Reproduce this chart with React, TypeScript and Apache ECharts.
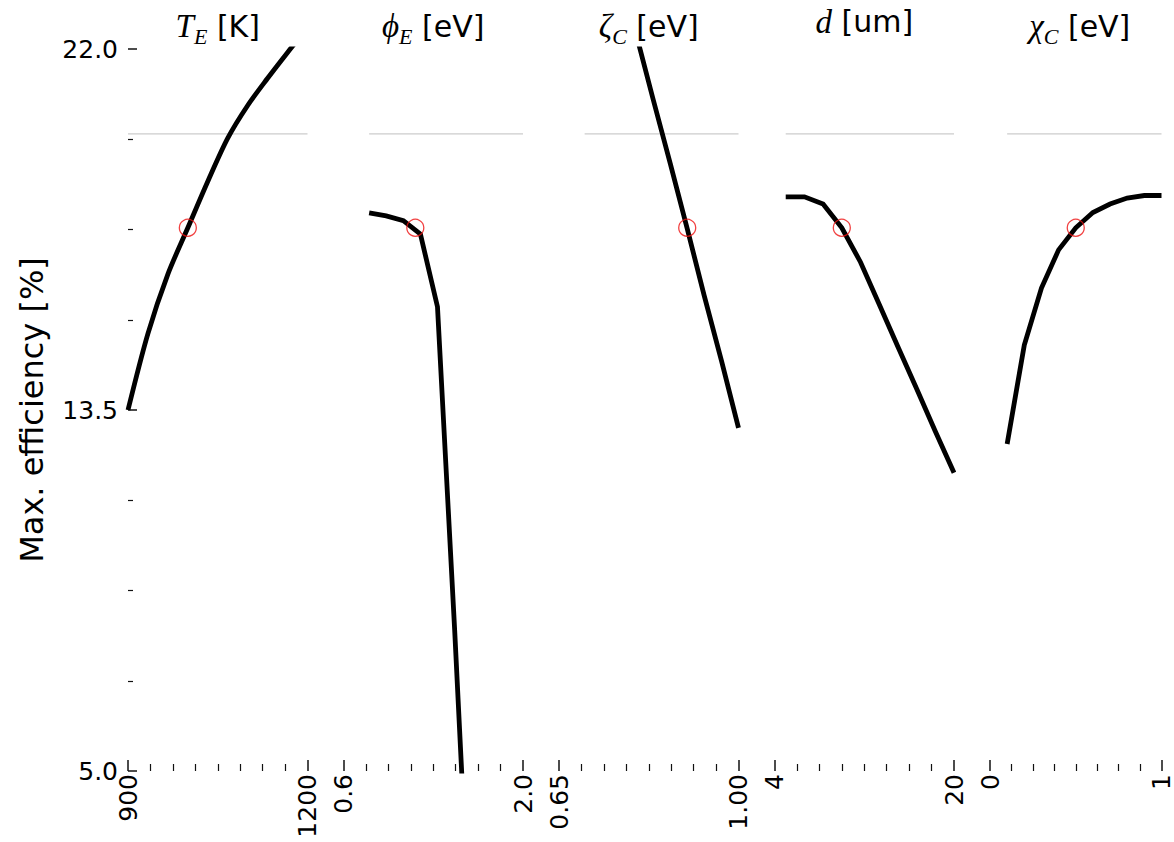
import React, { useEffect, useRef } from "react";
import * as echarts from "echarts";

// ---- y axis ----
const Y_MIN = 5;
const Y_MAX = 22;
const Y_TICK_LABELS = [5.0, 13.5, 22.0];
const Y_MINOR_TICKS = [7.125, 9.25, 11.375, 15.625, 17.75, 19.875];
const REF_LEVEL = 20;
const BASE_EFF = 17.79;

// ---- panel x ranges and labels ----
const X_MIN = [900, 0.6, 0.65, 4, 0];
const X_MAX = [1200, 2.0, 1.0, 20, 1];
const X_TICK_LABELS = [
  ["900", "1200"],
  ["0.6", "2.0"],
  ["0.65", "1.00"],
  ["4", "20"],
  ["0", "1"],
];
const BASE_X = [1000, 1.16, 0.9, 10, 0.5];

// ---- series data ----
const TE_X = [900, 933.3, 966.7, 1000, 1033.3, 1066.7, 1100, 1133.3, 1166.7, 1200];
const TE_Y = [13.5, 15.3, 16.7, 17.79, 18.88, 19.9, 20.67, 21.31, 21.92, 22.5];

const PHI_X = [0.8, 0.933, 1.067, 1.2, 1.333, 1.467, 1.6, 1.733, 1.867, 2.0];
const PHI_Y = [18.14, 18.07, 17.96, 17.64, 15.93, 8.32, 0.2, 0, 0, 0];

const ZETA_X = [0.7, 0.733, 0.767, 0.8, 0.833, 0.867, 0.9, 0.933, 0.967, 1.0];
const ZETA_Y = [27.0, 25.48, 23.9, 22.37, 20.84, 19.3, 17.77, 16.2, 14.65, 13.08];

const D_X = [5, 6.67, 8.33, 10, 11.67, 13.33, 15, 16.67, 18.33, 20];
const D_Y = [18.52, 18.52, 18.35, 17.79, 16.98, 15.99, 14.99, 14.0, 13.0, 12.02];

const CHI_X = [0.1, 0.2, 0.3, 0.4, 0.5, 0.6, 0.7, 0.8, 0.9, 1.0];
const CHI_Y = [12.7, 15.03, 16.37, 17.27, 17.79, 18.15, 18.35, 18.49, 18.55, 18.55];

const PANEL_X = [TE_X, PHI_X, ZETA_X, D_X, CHI_X];
const PANEL_Y = [TE_Y, PHI_Y, ZETA_Y, D_Y, CHI_Y];
const PANEL_SMOOTH = [0.3, 0, 0, 0, 0];

// titles: [math symbol, subscript, unit]
const TITLES = [
  ["T", "E", "[K]"],
  ["\u03D5", "E", "[eV]"],
  ["\u03B6", "C", "[eV]"],
  ["d", "", "[um]"],
  ["\u03C7", "C", "[eV]"],
];

const GRID_LEFT = 128;
const GRID_STEP = 215.5;
const GRID_W = 179.5;
const GRID_TOP = 49;
const GRID_H = 722;

const SANS = "DejaVu Sans";
const SERIF = "'Liberation Serif', 'DejaVu Serif', serif";

export default function App() {
  const ref = useRef<HTMLDivElement>(null);

  useEffect(() => {
    if (!ref.current) return;
    const chart = echarts.init(ref.current, undefined, { renderer: "svg" });

    const grids: any[] = [];
    const xAxes: any[] = [];
    const yAxes: any[] = [];
    const series: any[] = [];
    const titles: any[] = [];

    for (let i = 0; i < 5; i++) {
      const left = GRID_LEFT + GRID_STEP * i;
      grids.push({ left, top: GRID_TOP, width: GRID_W, height: GRID_H });
      const mn = X_MIN[i];
      const mx = X_MAX[i];
      const minorVals: number[] = [];
      for (let k = 1; k < 8; k++) minorVals.push(mn + ((mx - mn) * k) / 8);
      const labels = X_TICK_LABELS[i];
      xAxes.push({
        type: "value",
        gridIndex: i,
        position: "bottom",
        min: mn,
        max: mx,
        axisLine: { show: false },
        splitLine: { show: false },
        axisTick: {
          show: true,
          inside: true,
          length: 11,
          customValues: [mn, mx],
          lineStyle: { color: "#111", width: 1.5 },
        },
        axisLabel: {
          show: true,
          customValues: [mn, mx],
          rotate: 90,
          margin: 3,
          fontSize: 25,
          fontFamily: SANS,
          color: "#000",
          formatter: (v: number) => (Math.abs(v - mn) < 1e-9 ? labels[0] : labels[1]),
        },
      });
      xAxes.push({
        type: "value",
        gridIndex: i,
        position: "bottom",
        min: mn,
        max: mx,
        axisLine: { show: false },
        splitLine: { show: false },
        axisTick: {
          show: true,
          inside: true,
          length: 7,
          customValues: minorVals,
          lineStyle: { color: "#111", width: 1.2 },
        },
        axisLabel: { show: false },
      });

      if (i === 0) {
        yAxes.push({
          type: "value",
          gridIndex: 0,
          position: "left",
          min: Y_MIN,
          max: Y_MAX,
          axisLine: { show: false },
          splitLine: { show: false },
          axisTick: {
            show: true,
            inside: true,
            length: 9,
            customValues: Y_TICK_LABELS,
            lineStyle: { color: "#111", width: 1.5 },
          },
          axisLabel: {
            show: true,
            customValues: Y_TICK_LABELS,
            margin: 10,
            fontSize: 25,
            fontFamily: SANS,
            color: "#000",
            formatter: (v: number) => v.toFixed(1),
          },
          name: "Max. efficiency [%]",
          nameLocation: "middle",
          nameRotate: 90,
          nameGap: 80,
          nameTextStyle: { fontSize: 32, fontFamily: SANS, color: "#000" },
        });
        yAxes.push({
          type: "value",
          gridIndex: 0,
          position: "left",
          min: Y_MIN,
          max: Y_MAX,
          axisLine: { show: false },
          splitLine: { show: false },
          axisTick: {
            show: true,
            inside: true,
            length: 5,
            customValues: Y_MINOR_TICKS,
            lineStyle: { color: "#111", width: 1.2 },
          },
          axisLabel: { show: false },
        });
      } else {
        yAxes.push({
          type: "value",
          gridIndex: i,
          min: Y_MIN,
          max: Y_MAX,
          show: false,
          splitLine: { show: false },
        });
      }
      const yIdx = i === 0 ? 0 : i + 1;
      const xIdx = 2 * i;
      const xs = PANEL_X[i];
      const ys = PANEL_Y[i];

      series.push({
        type: "line",
        xAxisIndex: xIdx,
        yAxisIndex: yIdx,
        data: [
          [xs[0], REF_LEVEL],
          [xs[xs.length - 1], REF_LEVEL],
        ],
        symbol: "none",
        lineStyle: { color: "#cccccc", width: 1.2 },
        z: 1,
        silent: true,
      });
      series.push({
        type: "line",
        xAxisIndex: xIdx,
        yAxisIndex: yIdx,
        data: xs.map((x, k) => [x, ys[k]]),
        symbol: "none",
        clip: true,
        smooth: PANEL_SMOOTH[i] || false,
        lineStyle: { color: "#000", width: 4.8, join: "miter" },
        z: 2,
      });
      series.push({
        type: "scatter",
        xAxisIndex: xIdx,
        yAxisIndex: yIdx,
        data: [[BASE_X[i], BASE_EFF]],
        symbol: "circle",
        symbolSize: 17,
        itemStyle: { color: "rgba(0,0,0,0)", borderColor: "#ee1111", borderWidth: 1.3 },
        z: 3,
      });

      const [sym, sub, unit] = TITLES[i];
      const text = sub
        ? `{m|${sym}}{s|${sub}}{n| ${unit}}`
        : `{m|${sym}}{n| ${unit}}`;
      titles.push({
        text,
        left: left + GRID_W / 2,
        top: 5,
        textAlign: "center",
        padding: 0,
        textStyle: {
          fontWeight: "normal",
          rich: {
            m: { fontFamily: SERIF, fontStyle: "italic", fontWeight: "normal", fontSize: 33, color: "#000" },
            s: {
              fontFamily: SERIF,
              fontStyle: "italic",
              fontWeight: "normal",
              fontSize: 22,
              color: "#000",
              padding: [20, 0, 0, 0],
            },
            n: { fontFamily: SANS, fontWeight: "normal", fontSize: 30, color: "#000" },
          },
        },
      });
    }

    chart.setOption({
      animation: false,
      backgroundColor: "#ffffff",
      title: titles,
      grid: grids,
      xAxis: xAxes,
      yAxis: yAxes,
      series,
    });

    return () => chart.dispose();
  }, []);

  return (
    <div
      ref={ref}
      style={{ position: "absolute", left: 0, top: 0, width: 1174, height: 842 }}
    />
  );
}
